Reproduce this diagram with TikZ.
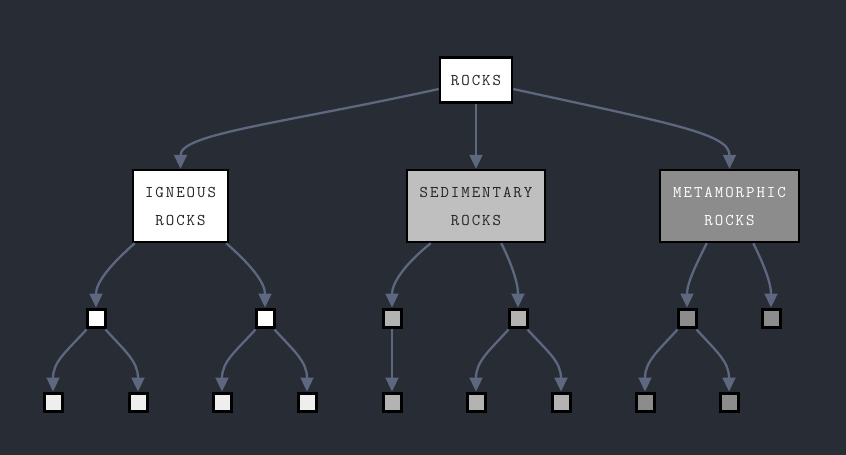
\documentclass[tikz,border=0pt]{standalone}
\usepackage{fontspec}
\setmonofont{Latin Modern Mono}[LetterSpace=12]
\usetikzlibrary{arrows.meta}
\definecolor{bg}{HTML}{282C34}
\definecolor{edge}{RGB}{93,103,128}
\definecolor{txt}{HTML}{222222}
\definecolor{sedfill}{HTML}{BFBFBF}
\definecolor{sedsmall}{HTML}{B3B3B3}
\definecolor{metfill}{HTML}{8C8C8C}
\definecolor{igsmall}{HTML}{EEEEEE}
\tikzset{
  bigbox/.style={draw=black, line width=2.5pt, inner sep=0pt, minimum height=72pt,
    align=center, font=\ttfamily\fontsize{16.4}{28}\selectfont, text=txt},
  sq/.style={draw=black, line width=3pt, inner sep=0pt, minimum size=18pt},
  conn/.style={draw=edge, line width=2.3pt, -{Triangle[length=14pt,width=13pt]}},
}
\begin{document}
\begin{tikzpicture}[x=1pt,y=-1pt]
\fill[bg] (0,0) rectangle (846,455);
\useasboundingbox (0,0) rectangle (846,455);
% main nodes
\node[bigbox, fill=white, minimum width=72pt, minimum height=45pt] (rocks) at (476,80) {ROCKS};
\node[bigbox, fill=white, minimum width=95pt] (ign) at (180.5,206) {IGNEOUS\\ROCKS};
\node[bigbox, fill=sedfill, minimum width=138pt] (sed) at (476,206) {SEDIMENTARY\\ROCKS};
\node[bigbox, fill=metfill, minimum width=139pt, text=white] (met) at (729.5,206) {METAMORPHIC\\ROCKS};
% level 2
\node[sq, fill=white] (i1) at (96,318) {};
\node[sq, fill=white] (i2) at (265,318) {};
\node[sq, fill=sedsmall] (s1) at (392,318) {};
\node[sq, fill=sedsmall] (s2) at (518,318) {};
\node[sq, fill=metfill] (m1) at (687,318) {};
\node[sq, fill=metfill] (m2) at (771,318) {};
% level 3
\node[sq, fill=igsmall] (i11) at (53,402) {};
\node[sq, fill=igsmall] (i12) at (138,402) {};
\node[sq, fill=igsmall] (i21) at (222,402) {};
\node[sq, fill=igsmall] (i22) at (307,402) {};
\node[sq, fill=sedsmall] (s11) at (392,402) {};
\node[sq, fill=sedsmall] (s21) at (476,402) {};
\node[sq, fill=sedsmall] (s22) at (561,402) {};
\node[sq, fill=metfill] (m11) at (645,402) {};
\node[sq, fill=metfill] (m12) at (729,402) {};
% edges level 0-1
\draw[conn] ([yshift=-9pt]rocks.west) .. controls +(-160,35) and +(0,-35) .. (ign.north);
\draw[conn] (rocks.south) -- (sed.north);
\draw[conn] ([yshift=-9pt]rocks.east) .. controls +(160,35) and +(0,-35) .. (met.north);
% edges level 1-2
\draw[conn] ([xshift=3pt]ign.south west) .. controls +(-25,22) and +(0,-25) .. (i1.north);
\draw[conn] ([xshift=-3pt]ign.south east) .. controls +(25,22) and +(0,-25) .. (i2.north);
\draw[conn] ([xshift=25pt]sed.south west) .. controls +(-25,20) and +(0,-25) .. (s1.north);
\draw[conn] ([xshift=-45pt]sed.south east) .. controls +(10,20) and +(0,-25) .. (s2.north);
\draw[conn] ([xshift=48pt]met.south west) .. controls +(-10,20) and +(0,-25) .. (m1.north);
\draw[conn] ([xshift=-47pt]met.south east) .. controls +(10,20) and +(0,-25) .. (m2.north);
% edges level 2-3
\foreach \p/\c in {i1/i11, i2/i21, m1/m11, s2/s21}{
  \draw[conn] ([xshift=1pt,yshift=-1pt]\p.south west) .. controls +(-20,22) and +(0,-30) .. (\c.north);
}
\foreach \p/\c in {i1/i12, i2/i22, m1/m12, s2/s22}{
  \draw[conn] ([xshift=-1pt,yshift=-1pt]\p.south east) .. controls +(20,22) and +(0,-30) .. (\c.north);
}
\draw[conn] (s1.south) -- (s11.north);
\end{tikzpicture}
\end{document}
